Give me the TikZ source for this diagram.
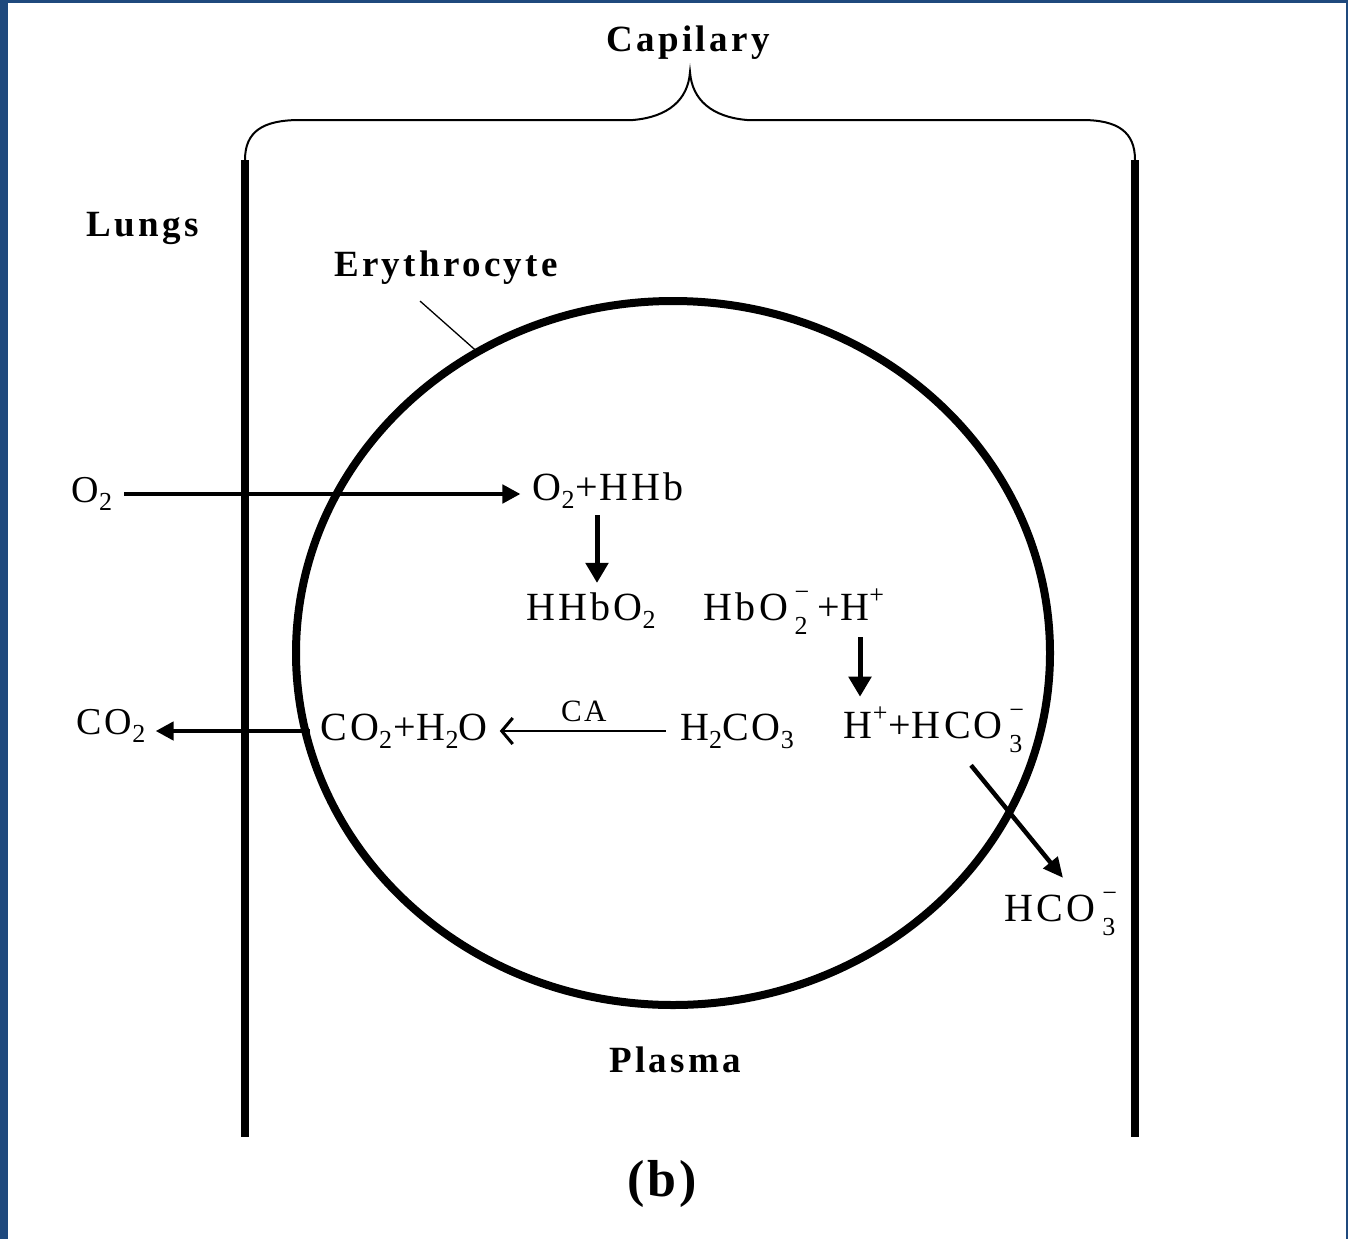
\documentclass[tikz,border=0pt]{standalone}
\usepackage{graphicx}
\usepackage{fontspec}
\setmainfont{Liberation Serif}
\usetikzlibrary{arrows.meta,shapes.geometric,calc}
\definecolor{frameblue}{RGB}{31,73,125}
\newcommand\mysub[1]{\raisebox{-0.2em}{\fontsize{26}{26}\selectfont #1}}
\newcommand\mysup[1]{\raisebox{0.42em}{\fontsize{26}{26}\selectfont #1}}
\newcommand\mysubsup[2]{\makebox[0pt][l]{\raisebox{-0.36em}{\fontsize{26}{26}\selectfont #1}}\raisebox{0.5em}{\fontsize{26}{26}\selectfont #2}}
\newcommand\plus{\kern1pt+\kern1pt}
\tikzset{
  chem/.style={inner sep=0pt, font=\fontsize{40}{44}\selectfont\addfontfeature{LetterSpace=8}},
  side/.style={inner sep=0pt, font=\fontsize{38}{42}\selectfont\addfontfeature{LetterSpace=8}},
  title/.style={inner sep=0pt, font=\fontsize{37}{40}\selectfont\bfseries\addfontfeature{LetterSpace=9}},
  bigarrow/.style={line width=4.5pt, -{Triangle[length=18pt,width=18pt]}},
  downarrow/.style={line width=5pt, -{Triangle[length=20pt,width=22pt]}},
  thinarrow/.style={line width=2.2pt, -{Straight Barb[length=11pt,width=26pt,line width=3pt]}},
  diagarrow/.style={line width=4.5pt, -{Triangle[length=20pt,width=18pt]}},
  wall/.style={line width=8pt},
  brace/.style={line width=2pt},
  leader/.style={line width=1.3pt},
}
\begin{document}
\begin{tikzpicture}[x=1pt,y=-1pt]
\useasboundingbox (0,0) rectangle (1348,1239);
\fill[white] (0,0) rectangle (1348,1239);
% frame
\fill[frameblue] (0,0) rectangle (8,1239);
\fill[frameblue] (0,0) rectangle (1348,3);
\fill[frameblue] (1346,0) rectangle (1348,1239);

% capillary walls and brace
\draw[wall] (245,160) -- (245,1137);
\draw[wall] (1135,160) -- (1135,1137);
\draw[brace] (245,160) .. controls (245,132) and (262,120) .. (300,120) -- (633,120)
  .. controls (668,117) and (688,100) .. (690,72)
  .. controls (692,100) and (712,117) .. (747,120) -- (1082,120)
  .. controls (1118,120) and (1135,132) .. (1135,160);

% erythrocyte
\node[draw, ellipse, line width=8pt, minimum width=754pt, minimum height=704pt, inner sep=0pt, outer sep=0pt] (cell) at (673,653) {};

% labels
\node[title] (cap) at (688,43) {Capilary};
\node[title] (lungs) at (143,228) {Lungs};
\node[title] (ery) at (446,268) {Erythrocyte};
\node[title] (plasma) at (675,1060) {Plasma};
\node[title, font=\fontsize{52}{56}\selectfont\bfseries\addfontfeature{LetterSpace=5}] (b) at (662,1184) {(b)};

\draw[leader] ([shift={(-26pt,-16pt)}]ery.south) -- (cell.123);

% chemistry
\node[side] (o2L) at (92,494) {O\mysub{2}};
\node[side] (co2L) at (111,726) {CO\mysub{2}};
\node[chem] (o2hhb) at (608,491) {O\mysub{2}\plus HHb};
\node[chem] (hhbo2) at (591,611) {HHbO\mysub{2}};
\node[chem] (hbo2) at (794,612) {HbO\,\mysubsup{2}{−}\,\plus H\mysup{+}};
\node[chem] (co2h2o) at (404,731) {CO\mysub{2}\plus H\mysub{2}O};
\node[chem] (h2co3) at (737,731) {H\mysub{2}CO\mysub{3}};
\node[chem] (hhco3) at (934,730) {H\mysup{+}\plus HCO\,\mysubsup{3}{−}};
\node[chem] (hco3) at (1061,914) {HCO\,\mysubsup{3}{−}};

% arrows
\draw[bigarrow, shorten <=12pt, shorten >=12pt] (o2L.east) -- (o2L.east -| o2hhb.west);
\draw[downarrow] ([xshift=-11pt,yshift=-6pt]o2hhb.south) -- ([xshift=-11pt,yshift=10pt]o2hhb.south |- hhbo2.north);
\draw[downarrow] ([xshift=66pt,yshift=-2pt]hbo2.south) -- ([xshift=66pt,yshift=10pt]hbo2.south |- hhco3.north);
\draw[thinarrow, shorten <=14pt, shorten >=12pt] (h2co3.west) -- (h2co3.west -| co2h2o.east)
  node[midway, above=8pt, inner sep=0pt, font=\fontsize{31}{32}\selectfont\addfontfeature{LetterSpace=8}] (ca) {CA};
\draw[bigarrow, shorten <=10pt, shorten >=10pt] (co2h2o.west) -- (co2h2o.west -| co2L.east);
\draw[diagarrow] ([xshift=37pt,yshift=-12pt]hhco3.south) -- ([xshift=2pt,yshift=14pt]hco3.north);
\end{tikzpicture}
\end{document}
